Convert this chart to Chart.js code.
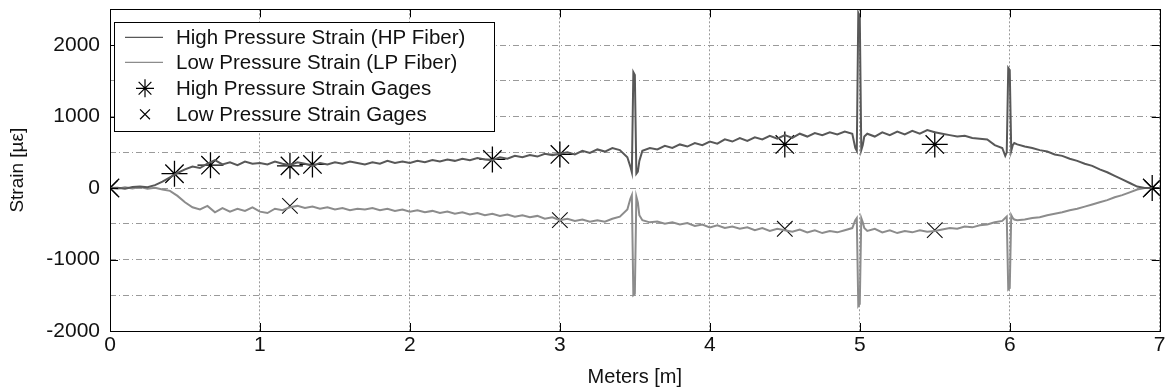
<!DOCTYPE html>
<html>
<head>
<meta charset="utf-8">
<script src="https://cdn.jsdelivr.net/npm/chart.js@4"></script>
<style>
  html, body { margin: 0; padding: 0; background: #fff; }
  #wrap { width: 1167px; height: 389px; overflow: hidden; }
  #strainChart { display: block; margin-top: -5px; }
</style>
</head>
<body>
<div id="wrap"><canvas id="strainChart" width="1174" height="394"></canvas></div>
<script>
// distance along the pipe, meters (dense near the three spikes)
const meters = [
  0.00, 0.05, 0.10, 0.15, 0.20, 0.25, 0.30, 0.35, 0.40, 0.45,
  0.50, 0.55, 0.60, 0.65, 0.70, 0.75, 0.80, 0.85, 0.90, 0.95,
  1.00, 1.05, 1.10, 1.15, 1.20, 1.25, 1.30, 1.35, 1.40, 1.45,
  1.50, 1.55, 1.60, 1.65, 1.70, 1.75, 1.80, 1.85, 1.90, 1.95,
  2.00, 2.05, 2.10, 2.15, 2.20, 2.25, 2.30, 2.35, 2.40, 2.45,
  2.50, 2.55, 2.60, 2.65, 2.70, 2.75, 2.80, 2.85, 2.90, 2.95,
  3.00, 3.05, 3.10, 3.15, 3.20, 3.25, 3.30, 3.35, 3.40, 3.45,
  3.47, 3.48, 3.49, 3.50, 3.51, 3.52, 3.53,
  3.55, 3.60, 3.65, 3.70, 3.75, 3.80, 3.85, 3.90, 3.95,
  4.00, 4.05, 4.10, 4.15, 4.20, 4.25, 4.30, 4.35, 4.40, 4.45,
  4.50, 4.55, 4.60, 4.65, 4.70, 4.75, 4.80, 4.85, 4.90, 4.95,
  4.97, 4.98, 4.99, 5.00, 5.01, 5.02, 5.03,
  5.05, 5.10, 5.15, 5.20, 5.25, 5.30, 5.35, 5.40, 5.45,
  5.50, 5.55, 5.60, 5.65, 5.70, 5.75, 5.80, 5.85, 5.90, 5.95,
  5.97, 5.98, 5.99, 6.00, 6.01, 6.02, 6.03,
  6.05, 6.10, 6.15, 6.20, 6.25, 6.30, 6.35, 6.40, 6.45,
  6.50, 6.55, 6.60, 6.65, 6.70, 6.75, 6.80, 6.85, 6.90, 6.95
];

// high pressure fiber strain, microstrain
const hpStrain = [
  0, 5, -10, 15, 20, 10, 40, 90, 150, 210,
  260, 300, 280, 340, 390, 330, 360, 320, 370, 340,
  350, 330, 370, 340, 320, 360, 340, 310, 350, 330,
  360, 340, 370, 350, 330, 360, 340, 380, 350, 370,
  350, 380, 360, 390, 370, 400, 380, 410, 390, 420,
  400, 390, 430, 410, 450, 430, 460, 440, 480, 460,
  480, 500, 470, 520, 490, 540, 510, 560, 530, 430,
  300, 220, 1620, 1580, 200, 230, 380,
  520, 560, 540, 590, 560, 610, 580, 630, 600,
  650, 620, 680, 650, 700, 660, 710, 680, 730, 690,
  740, 700, 760, 720, 770, 740, 780, 750, 790, 760,
  560, 520, 2450, 2400, 530, 600, 720,
  760, 720, 780, 740, 790, 750, 800, 760, 810,
  780, 760, 740, 720, 730, 700, 690, 680, 600, 560,
  450, 500, 1680, 1650, 520, 600, 630,
  610, 580, 560, 530, 510, 470, 450, 410, 380,
  340, 310, 260, 220, 170, 120, 70, 20, 0, 0
];

// low pressure fiber strain, microstrain
const lpStrain = [
  0, -10, 10, -5, 15, -10, 5, -20, -40, -110,
  -200, -270, -300, -250, -340, -280, -330, -290, -320, -270,
  -330, -350, -290, -310, -270, -250, -280, -260, -290, -270,
  -300, -280, -310, -290, -300, -280, -310, -290, -320, -300,
  -330, -310, -340, -320, -350, -330, -360, -340, -370, -350,
  -380, -360, -390, -370, -400, -380, -410, -390, -430, -410,
  -450, -430, -460, -440, -470, -450, -470, -430, -400, -300,
  -150, -100, -1500, -1480, -120, -200, -380,
  -450, -480, -470, -500, -480, -510, -490, -530, -510,
  -550, -520, -560, -540, -570, -550, -590, -560, -600, -570,
  -590, -610, -580, -620, -590, -630, -600, -620, -590, -560,
  -450, -420, -1650, -1620, -420, -480, -560,
  -600, -570, -620, -590, -630, -600, -620, -590, -610,
  -600, -580, -560, -570, -540, -550, -520, -510, -480, -460,
  -420, -400, -1420, -1400, -380, -420, -440,
  -450, -440, -420, -410, -380, -360, -340, -310, -290,
  -260, -230, -200, -170, -130, -100, -60, -20, 0, 0
];

// strain gage readings
const hpGageMeters = [0, 0.43, 0.67, 1.2, 1.35, 2.55, 3.0, 4.5, 5.5, 6.95];
const hpGageStrain = [0, 200, 320, 310, 330, 400, 470, 610, 610, 0];
const lpGageMeters = [0, 1.2, 3.0, 4.5, 5.5, 6.95];
const lpGageStrain = [0, -250, -450, -570, -590, 0];

const seriesLabels = [
  'High Pressure Strain (HP Fiber)',
  'Low Pressure Strain (LP Fiber)',
  'High Pressure Strain Gages',
  'Low Pressure Strain Gages'
];

const xTicks = [0, 1, 2, 3, 4, 5, 6, 7];
const yTicks = [-2000, -1000, 0, 1000, 2000];

const toPoints = (xs, ys) => xs.map((x, i) => ({ x: x, y: ys[i] }));

const FONT = 'Liberation Sans, Arial, sans-serif';

// box round the plot, inward ticks and the legend box
const framePlugin = {
  id: 'frame',
  afterDatasetsDraw(chart) {
    const { ctx, chartArea: a, scales } = chart;
    ctx.save();
    ctx.strokeStyle = '#000';
    ctx.lineWidth = 1;

    // inward ticks
    ctx.beginPath();
    xTicks.forEach(v => {
      const px = Math.round(scales.x.getPixelForValue(v)) + 0.5;
      ctx.moveTo(px, a.bottom); ctx.lineTo(px, a.bottom - 8);
      ctx.moveTo(px, a.top); ctx.lineTo(px, a.top + 8);
    });
    yTicks.forEach(v => {
      const py = Math.round(scales.y.getPixelForValue(v)) + 0.5;
      ctx.moveTo(a.left, py); ctx.lineTo(a.left + 8, py);
      ctx.moveTo(a.right, py); ctx.lineTo(a.right - 8, py);
    });
    ctx.stroke();

    ctx.strokeRect(Math.round(a.left) + 0.5, Math.round(a.top) + 0.5,
      Math.round(a.right - a.left), Math.round(a.bottom - a.top));

    // legend
    const lx = a.left + 4, ly = a.top + 13, lw = 380, lh = 109;
    ctx.fillStyle = '#fff';
    ctx.fillRect(lx, ly, lw, lh);
    ctx.strokeRect(Math.round(lx) + 0.5, Math.round(ly) + 0.5, lw, lh);

    ctx.font = '20.5px ' + FONT;
    ctx.textBaseline = 'middle';
    ctx.textAlign = 'left';
    const rowY = [ly + 15, ly + 40, ly + 66, ly + 92];
    chart.data.datasets.forEach((ds, i) => {
      const y = rowY[i];
      if (i < 2) {
        ctx.strokeStyle = ds.borderColor;
        ctx.lineWidth = 1.2;
        ctx.beginPath();
        ctx.moveTo(lx + 11, y); ctx.lineTo(lx + 49, y);
        ctx.stroke();
      } else {
        ctx.strokeStyle = '#000';
        Chart.helpers.drawPoint(ctx, {
          pointStyle: ds.pointStyle,
          radius: i === 2 ? 9 : 7,
          borderWidth: 1.2
        }, lx + 31, y);
      }
      ctx.fillStyle = '#111';
      ctx.fillText(ds.label, lx + 62, y + 1);
    });
    ctx.restore();
  }
};

Chart.defaults.font.family = FONT;
Chart.defaults.color = '#111';

new Chart(document.getElementById('strainChart'), {
  type: 'scatter',
  data: {
    datasets: [
      {
        label: seriesLabels[0],
        data: toPoints(meters, hpStrain),
        showLine: true,
        borderColor: '#585858',
        borderWidth: 2,
        pointRadius: 0,
        tension: 0
      },
      {
        label: seriesLabels[1],
        data: toPoints(meters, lpStrain),
        showLine: true,
        borderColor: '#8c8c8c',
        borderWidth: 2,
        pointRadius: 0,
        tension: 0
      },
      {
        label: seriesLabels[2],
        data: toPoints(hpGageMeters, hpGageStrain),
        pointStyle: 'star',
        pointRadius: 13,
        borderColor: '#000',
        backgroundColor: '#000',
        borderWidth: 1.3
      },
      {
        label: seriesLabels[3],
        data: toPoints(lpGageMeters, lpGageStrain),
        pointStyle: 'crossRot',
        pointRadius: 11,
        borderColor: '#111',
        backgroundColor: '#111',
        borderWidth: 1.1
      }
    ]
  },
  options: {
    responsive: false,
    animation: false,
    layout: { padding: { left: 0, right: 0, top: 5, bottom: 0 } },
    plugins: {
      legend: { display: false },
      tooltip: { enabled: false }
    },
    scales: {
      x: {
        type: 'linear',
        min: 0,
        max: 7,
        afterBuildTicks: scale => { scale.ticks = xTicks.map(v => ({ value: v })); },
        afterFit: scale => {
          scale.height = 58;
          scale.paddingLeft = 0;
          scale.paddingRight = 0;
        },
        ticks: { font: { size: 21 }, color: '#111', padding: 2, maxRotation: 0 },
        grid: {
          color: '#9a9a9a',
          lineWidth: 1,
          drawTicks: false
        },
        border: { display: false, dash: [2, 2] },
        title: {
          display: true,
          text: 'Meters [m]',
          font: { size: 20 },
          color: '#111',
          padding: { top: 0, bottom: 0 }
        }
      },
      y: {
        min: -2000,
        max: 2500,
        ticks: {
          stepSize: 500,
          font: { size: 21 },
          color: '#111',
          padding: 10,
          callback: v => (v % 1000 === 0 ? v : '')
        },
        afterFit: scale => {
          scale.width = 110;
          scale.paddingTop = 0;
          scale.paddingBottom = 0;
        },
        grid: {
          color: '#9a9a9a',
          lineWidth: 1,
          drawTicks: false
        },
        border: { display: false, dash: [6, 3, 1, 3] },
        title: {
          display: true,
          text: 'Strain [µε]',
          font: { size: 19 },
          color: '#111',
          padding: { top: 6, bottom: 0 }
        }
      }
    }
  },
  plugins: [framePlugin]
});
</script>
</body>
</html>
